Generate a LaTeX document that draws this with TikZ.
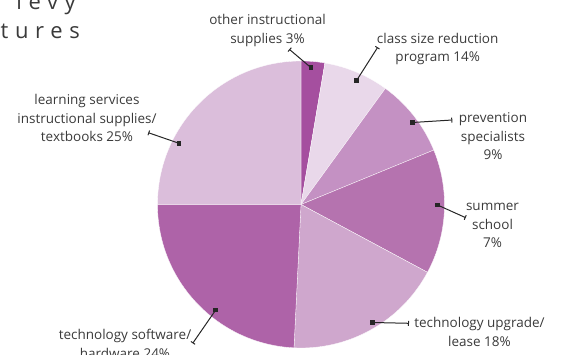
\documentclass[tikz,border=0pt]{standalone}
\usepackage{fontspec}
\setmainfont{Open Sans}
\newfontfamily\titlefont[LetterSpace=30]{Open Sans}
\usetikzlibrary{arrows.meta}
\definecolor{txt}{HTML}{3A3A3A}
\definecolor{cA}{HTML}{A54F9F}
\definecolor{cB}{HTML}{E9D8EA}
\definecolor{cC}{HTML}{C491C3}
\definecolor{cD}{HTML}{B573AF}
\definecolor{cE}{HTML}{CFA7CD}
\definecolor{cF}{HTML}{AE63A8}
\definecolor{cG}{HTML}{DBBEDB}
\tikzset{
  lbl/.style={font=\fontsize{13.5}{18.5}\selectfont, text=txt, align=center, anchor=base, inner sep=0pt},
  ttl/.style={anchor=base east, inner sep=0pt, text=txt, font=\fontsize{22}{26}\titlefont},
  sqmark/.style={fill=black!85, minimum size=4.5pt, inner sep=0pt, outer sep=0pt},
  leader/.style={draw=black!85, line width=1pt, -{Bar[width=5pt,line width=1pt]}},
  slice/.style={draw=white, line width=0.3pt}
}
\begin{document}
\begin{tikzpicture}[x=1pt,y=-1pt]
\useasboundingbox (0,0) rectangle (563,355);
\clip (0,0) rectangle (563,355);
% title (clipped)
\node[ttl] (t1) at (76,10) {levy};
\node[ttl] (t2) at (80,38.3) {expenditures};
% pie
\begin{scope}[shift={(301,204.5)}, yscale=-1]
\def\R{143.5}
\fill[cA,slice] (0,0) -- (90:\R) arc[start angle=90, end angle=80.4, radius=\R] -- cycle;
\fill[cB,slice] (0,0) -- (80.4:\R) arc[start angle=80.4, end angle=54, radius=\R] -- cycle;
\fill[cC,slice] (0,0) -- (54:\R) arc[start angle=54, end angle=22.3, radius=\R] -- cycle;
\fill[cD,slice] (0,0) -- (22.3:\R) arc[start angle=22.3, end angle=-28.2, radius=\R] -- cycle;
\fill[cE,slice] (0,0) -- (-28.2:\R) arc[start angle=-28.2, end angle=-92.8, radius=\R] -- cycle;
\fill[cF,slice] (0,0) -- (-92.8:\R) arc[start angle=-92.8, end angle=-180, radius=\R] -- cycle;
\fill[cG,slice] (0,0) -- (180:\R) arc[start angle=180, end angle=90, radius=\R] -- cycle;
\end{scope}
% labels (anchor = baseline of last line)
\node[lbl] (l1) at (267.5,43.5) {other instructional\\supplies 3\%};
\node[lbl] (l2) at (437.7,61.8) {class size reduction\\program 14\%};
\node[lbl] (l3) at (493,159.7) {prevention\\specialists\\9\%};
\node[lbl] (l4) at (492.5,248) {summer\\school\\7\%};
\node[lbl] (l5) at (479.5,346.2) {technology upgrade/\\lease 18\%};
\node[lbl] (l6) at (125,358.5) {technology software/\\hardware 24\%};
\node[lbl] (l7) at (87,142) {learning services\\instructional supplies/\\textbooks 25\%};
% markers and leader ends
\node[sqmark] (m1) at (311,67.7) {};
\node[sqmark] (m2) at (356.7,80.3) {};
\node[sqmark] (m3) at (412.5,122.5) {};
\node[sqmark] (m4) at (437.5,205) {};
\node[sqmark] (m5) at (372.7,322.5) {};
\node[sqmark] (m6) at (215.7,310) {};
\node[sqmark] (m7) at (179,143.3) {};
\coordinate (e1) at (289.3,49.3);
\coordinate (e2) at (377.7,47.3);
\coordinate (e3) at (452.3,120);
\coordinate (e4) at (465.7,217.7);
\coordinate (e5) at (409,323.3);
\coordinate (e6) at (192.7,343.3);
\coordinate (e7) at (148.3,132.7);
\foreach \i in {1,...,7} {\draw[leader] (m\i.center) -- (e\i);}
\end{tikzpicture}
\end{document}
